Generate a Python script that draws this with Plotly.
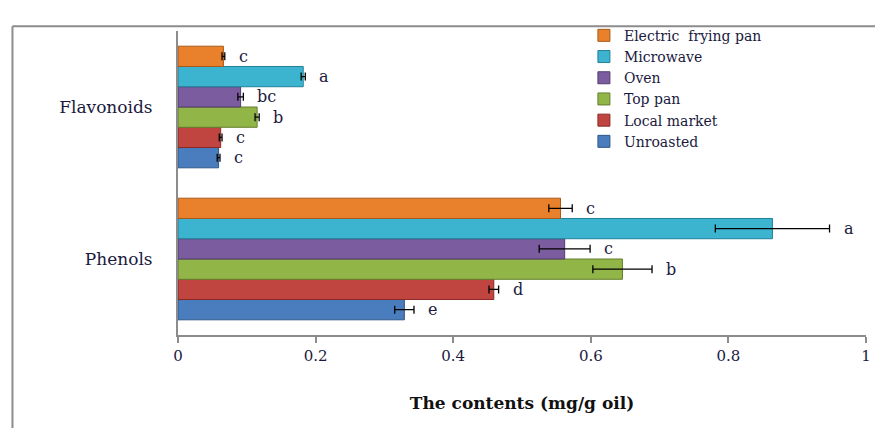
import plotly.graph_objects as go

categories = ["Phenols", "Flavonoids"]
legend_names = ["Unroasted", "Local market", "Top pan", "Oven", "Microwave", "Electric  frying pan"]
# values: [Phenols, Flavonoids]
unroasted = [0.329, 0.059]
local_market = [0.459, 0.062]
top_pan = [0.646, 0.115]
oven = [0.562, 0.091]
microwave = [0.864, 0.182]
electric = [0.556, 0.066]
err_unroasted = [0.014, 0.002]
err_local = [0.007, 0.002]
err_top = [0.043, 0.003]
err_oven = [0.037, 0.004]
err_micro = [0.083, 0.003]
err_electric = [0.017, 0.002]
letters_unroasted = ["e", "c"]
letters_local = ["d", "c"]
letters_top = ["b", "b"]
letters_oven = ["c", "bc"]
letters_micro = ["a", "a"]
letters_electric = ["c", "c"]

values = [unroasted, local_market, top_pan, oven, microwave, electric]
errors = [err_unroasted, err_local, err_top, err_oven, err_micro, err_electric]
letters = [letters_unroasted, letters_local, letters_top, letters_oven, letters_micro, letters_electric]
colors = ["#4A7DBD", "#C0443F", "#92B548", "#7B5C9E", "#3CB4D0", "#E8802C"]
outlines = ["#2E5686", "#8A2A27", "#647F2C", "#533D70", "#21819A", "#A85A17"]

FONT = "DejaVu Serif"
TXT = "#1a1a40"
bargap = 0.2
n = len(values)

fig = go.Figure()
for i in range(n):
    fig.add_trace(go.Bar(
        y=categories, x=values[i], orientation="h", name=legend_names[i],
        marker=dict(color=colors[i], line=dict(color=outlines[i], width=1)),
        error_x=dict(type="data", array=errors[i], color="black", thickness=1.3, width=4),
    ))

annotations = []
w = (1 - bargap) / n
for i in range(n):
    for c in range(len(categories)):
        annotations.append(dict(
            x=values[i][c] + errors[i][c], y=c + (i - (n - 1) / 2) * w,
            xref="x", yref="y", text=letters[i][c], showarrow=False,
            xanchor="left", xshift=12, font=dict(family=FONT, size=16, color=TXT),
        ))

fig.update_layout(
    width=875, height=420,
    margin=dict(l=170, r=15, t=12, b=93),
    paper_bgcolor="white", plot_bgcolor="white",
    barmode="group", bargap=bargap, bargroupgap=0,
    font=dict(family=FONT, size=14, color=TXT),
    showlegend=True,
    legend=dict(traceorder="reversed", x=0.59, y=1.037, xanchor="left", yanchor="top",
                bgcolor="rgba(255,255,255,0)", font=dict(family=FONT, size=14, color=TXT),
                tracegroupgap=0),
    annotations=annotations,
    shapes=[
        dict(type="line", xref="paper", yref="paper", x0=-0.2406, x1=1.1, y0=1.0159, y1=1.0159,
             line=dict(color="#8c8c8c", width=2)),
        dict(type="line", xref="paper", yref="paper", x0=-0.2406, x1=-0.2406, y0=1.0159, y1=-0.4,
             line=dict(color="#8c8c8c", width=2)),
    ],
)
fig.update_xaxes(range=[0, 1], dtick=0.2, tick0=0, showgrid=False, zeroline=False,
                 showline=True, linecolor="#8c8c8c", linewidth=2,
                 ticks="outside", ticklen=6, tickcolor="#8c8c8c", tickwidth=2,
                 tickfont=dict(family=FONT, size=15, color=TXT),
                 title=dict(text="<b>The contents (mg/g oil)</b>", standoff=33,
                            font=dict(family=FONT, size=17, color="#111")))
fig.update_yaxes(showgrid=False, zeroline=False, showline=True, linecolor="#8c8c8c", linewidth=2,
                 ticks="", ticklabelstandoff=20, range=[-0.5, 1.5],
                 tickfont=dict(family=FONT, size=17, color=TXT))

fig.write_html("out.html")
